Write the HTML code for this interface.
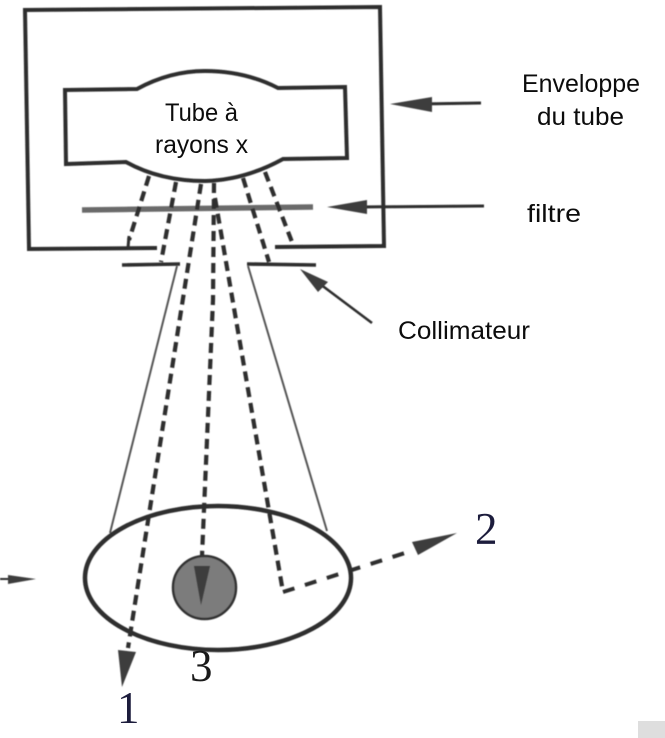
<!DOCTYPE html>
<html lang="fr">
<head>
<meta charset="utf-8">
<title>Tube à rayons x</title>
<style>
html,body{margin:0;padding:0;background:#fff;}
body{width:665px;height:738px;overflow:hidden;}
svg{display:block;}
.t{font-family:"Liberation Sans",sans-serif;font-size:25px;fill:#0c0c0c;}
.n{font-family:"Liberation Serif",serif;font-size:45px;}
</style>
</head>
<body>
<svg width="665" height="738" viewBox="0 0 665 738" xmlns="http://www.w3.org/2000/svg">
<defs><filter id="b" x="-5%" y="-5%" width="110%" height="110%"><feGaussianBlur stdDeviation="0.5"/></filter></defs>
<rect width="665" height="738" fill="#fff"/>
<rect x="638" y="721" width="27" height="17" fill="#dedede"/>
<g filter="url(#b)" fill="none" stroke="#2e2e2e" stroke-linecap="butt" stroke-linejoin="miter">
  <!-- enveloppe -->
  <path d="M157 248 L29 249 L25 10 L380 7 L384 246 L275 247" stroke-width="4"/>
  <!-- tube -->
  <path d="M65 90 L137 89 Q170 71 205 71 Q245 71 278 88 L345 87 L347 158 L283 159 Q245 180 205 181 Q160 181 126 162 L66 164 Z" stroke-width="4"/>
  <!-- filtre -->
  <path d="M82 210 L313 207" stroke="#6a6a6a" stroke-width="5.5"/>
  <!-- rayons -->
  <g stroke-width="4.2" stroke-dasharray="10 6">
    <path d="M149 176 Q137 215 129 240"/>
    <path d="M176 182 L161 262"/>
    <path d="M243 178 L269 262"/>
    <path d="M265 172 L292 242"/>
    <path d="M201 184 L128 648"/>
    <path d="M214 183 L213 300 L202 556"/>
    <path d="M215 198 L283 592"/>
  </g>
  <path d="M283 592 L408 552" stroke-width="4" stroke-dasharray="12 11"/>
  <path d="M129 236 L128 248" stroke-width="3"/>
  <!-- collimateur -->
  <path d="M177 266 L110 533" stroke="#555" stroke-width="2"/>
  <path d="M248 266 L327 531" stroke="#555" stroke-width="2"/>
  <path d="M122 265 L180 264 M316 265 L247 264" stroke-width="3.6"/>
  <!-- patient -->
  <ellipse cx="218" cy="578" rx="133" ry="72" stroke-width="4.5" fill="none"/>
  <circle cx="204.5" cy="587.5" r="31.5" fill="#7b7b7b" stroke="#333" stroke-width="2.5"/>
  <!-- flèches -->
  <path d="M481 103 L420 104" stroke-width="3"/>
  <path d="M484 206 L360 207" stroke-width="3"/>
  <path d="M372 323 L320 284" stroke-width="2.6"/>
  <path d="M0 579 L20 579" stroke-width="2"/>
</g>
<g filter="url(#b)" fill="#3c3c3c" stroke="none">
  <polygon points="390,104 432,97 432,112"/>
  <polygon points="327,207 367,200 367,214"/>
  <polygon points="300,269 328,282 318,292"/>
  <polygon points="8,575 36,579 8,584"/>
  <polygon points="118,650 136,652 122,687"/>
  <polygon points="412,542 457,533 418,555"/>
  <polygon points="194,566 210,566 201,605"/>
</g>
<g>
  <text class="t" x="165" y="121" textLength="73" lengthAdjust="spacingAndGlyphs">Tube à</text>
  <text class="t" x="155" y="153" textLength="93" lengthAdjust="spacingAndGlyphs">rayons x</text>
  <text class="t" x="522" y="92" textLength="118" lengthAdjust="spacingAndGlyphs">Enveloppe</text>
  <text class="t" x="537" y="125" textLength="87" lengthAdjust="spacingAndGlyphs">du tube</text>
  <text class="t" x="527" y="222" textLength="54" lengthAdjust="spacingAndGlyphs">filtre</text>
  <text class="t" x="398" y="339" textLength="132" lengthAdjust="spacingAndGlyphs">Collimateur</text>
  <text class="n" x="117" y="723" fill="#1c1c3c">1</text>
  <text class="n" x="190" y="681" fill="#1a1a1a">3</text>
  <text class="n" x="475" y="544" fill="#1c1c3c">2</text>
</g>
</svg>
</body>
</html>
